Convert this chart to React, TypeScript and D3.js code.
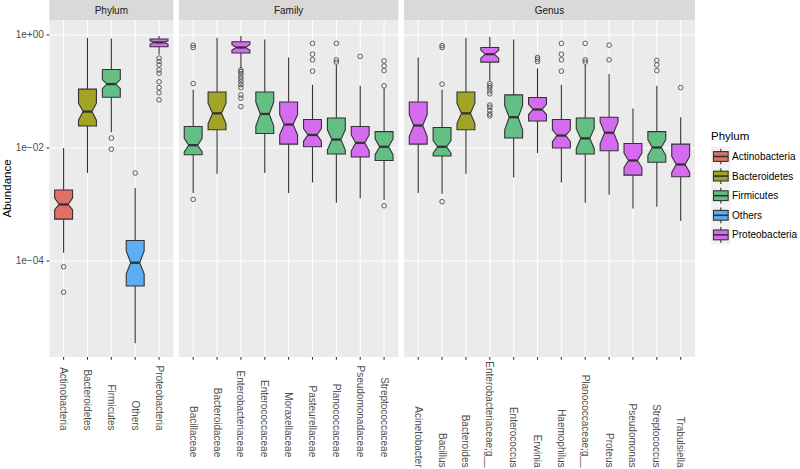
import React from "react";
import * as d3 from "d3";

const WIDTH = 800;
const HEIGHT = 469;
const PLOT_L = 49.3;
const PLOT_R = 695;
const PANEL_T = 20;
const PANEL_B = 357;
const GAP = 5.5;
const FONT = "'Liberation Sans', Arial, Helvetica, sans-serif";

const panelNames = ["Phylum", "Family", "Genus"];
const phyla = ["Actinobacteria", "Bacteroidetes", "Firmicutes", "Others", "Proteobacteria"];
const phylumColors = ["#E06F68", "#A3A326", "#64BF84", "#5BAEF2", "#D56BEE"];

const phylumTaxa = ["Actinobacteria", "Bacteroidetes", "Firmicutes", "Others", "Proteobacteria"];
const familyTaxa = [
  "Bacillaceae", "Bacteroidaceae", "Enterobacteriaceae", "Enterococcaceae", "Moraxellaceae",
  "Pasteurellaceae", "Planococcaceae", "Pseudomonadaceae", "Streptococcaceae",
];
const genusTaxa = [
  "Acinetobacter", "Bacillus", "Bacteroides", "Enterobacteriaceae;g__", "Enterococcus", "Erwinia",
  "Haemophilus", "Planococcaceae;g__", "Proteus", "Pseudomonas", "Streptococcus", "Trabulsiella",
];
const panelTaxa = [phylumTaxa, familyTaxa, genusTaxa];

// phylum index of each box (fill colour), in panel order
const boxPhylum = [
  0, 1, 2, 3, 4,
  2, 1, 4, 2, 4, 4, 2, 4, 2,
  4, 2, 1, 4, 2, 4, 4, 2, 4, 4, 2, 4,
];

const whiskerLow = [
  1.4e-4, 3.6e-3, 1.9e-2, 3.5e-6, 0.45,
  1.6e-3, 3.5e-3, 0.257, 3.6e-3, 1.6e-3, 2.45e-3, 1.07e-3, 1.29e-3, 1.2e-3,
  1.6e-3, 1.55e-3, 3.5e-3, 0.155, 3.0e-3, 8.1e-3, 2.45e-3, 1.07e-3, 1.48e-3, 8.5e-4, 9.1e-4, 5.1e-4,
];
const hingeLow = [
  5.5e-4, 2.45e-2, 7.9e-2, 3.6e-5, 0.62,
  7.6e-3, 2.1e-2, 0.48, 1.8e-2, 1.17e-2, 1.05e-2, 7.8e-3, 6.9e-3, 6.0e-3,
  1.17e-2, 7.2e-3, 2.1e-2, 0.331, 1.5e-2, 3.0e-2, 1.0e-2, 7.8e-3, 8.9e-3, 3.3e-3, 5.6e-3, 3.1e-3,
];
const medians = [
  1.0e-3, 4.4e-2, 0.135, 9.3e-5, 0.74,
  1.12e-2, 4.1e-2, 0.6, 4.0e-2, 2.6e-2, 1.7e-2, 1.41e-2, 1.23e-2, 1.05e-2,
  2.5e-2, 1.05e-2, 4.1e-2, 0.457, 3.5e-2, 4.8e-2, 1.66e-2, 1.48e-2, 1.86e-2, 6.0e-3, 1.02e-2, 5.1e-3,
];
const hingeHigh = [
  1.8e-3, 0.11, 0.245, 2.3e-4, 0.85,
  2.4e-2, 9.8e-2, 0.76, 9.8e-2, 6.5e-2, 3.2e-2, 3.4e-2, 2.4e-2, 1.95e-2,
  6.5e-2, 2.3e-2, 9.8e-2, 0.6, 8.7e-2, 7.8e-2, 3.2e-2, 3.4e-2, 3.5e-2, 1.2e-2, 1.95e-2, 1.17e-2,
];
const whiskerHigh = [
  1.0e-2, 0.89, 0.87, 1.95e-3, 0.955,
  0.107, 0.89, 0.955, 0.83, 0.4, 0.132, 0.295, 0.126, 0.115,
  0.4, 0.107, 0.89, 0.93, 0.83, 0.257, 0.132, 0.295, 0.204, 5.0e-2, 0.126, 3.5e-2,
];
const notchLow = [
  8.1e-4, 3.1e-2, 0.112, 5.9e-5, 0.69,
  8.5e-3, 2.7e-2, 0.54, 2.45e-2, 1.7e-2, 1.32e-2, 9.3e-3, 8.9e-3, 7.6e-3,
  1.6e-2, 8.1e-3, 2.7e-2, 0.389, 2.1e-2, 3.9e-2, 1.29e-2, 9.8e-3, 1.2e-2, 4.5e-3, 7.4e-3, 3.7e-3,
];
const notchHigh = [
  1.3e-3, 6.2e-2, 0.162, 1.5e-4, 0.79,
  1.48e-2, 6.2e-2, 0.67, 6.5e-2, 3.9e-2, 2.2e-2, 2.1e-2, 1.7e-2, 1.45e-2,
  3.9e-2, 1.35e-2, 6.2e-2, 0.537, 5.6e-2, 5.9e-2, 2.1e-2, 2.2e-2, 2.9e-2, 8.1e-3, 1.41e-2, 7.1e-3,
];
const outliers: number[][] = [
  [7.9e-5, 2.8e-5],
  [],
  [1.5e-2, 9.5e-3],
  [3.6e-3],
  [0.39, 0.34, 0.295, 0.24, 0.21, 0.148, 0.117, 0.095, 0.071],
  [0.66, 0.6, 0.138, 1.23e-3],
  [],
  [0.24, 0.224, 0.204, 0.182, 0.166, 0.148, 0.132, 0.117, 0.087, 0.076, 0.054],
  [],
  [],
  [0.71, 0.457, 0.363, 0.229],
  [0.71, 0.363, 0.331],
  [0.417],
  [0.347, 0.282, 0.234, 0.126, 9.5e-4],
  [],
  [0.65, 0.6, 0.135, 1.12e-3],
  [],
  [0.138, 0.126, 0.115, 0.102, 0.091, 0.0575, 0.0525, 0.0457, 0.04, 0.037],
  [],
  [0.4, 0.372, 0.339],
  [0.71, 0.457, 0.363, 0.229],
  [0.71, 0.363, 0.331],
  [0.66, 0.363],
  [],
  [0.355, 0.295, 0.234],
  [0.117],
];

const yTicks = [1e-4, 1e-2, 1];
const yTickLabels = ["1e\u221204", "1e\u221202", "1e+00"];

let ctx: CanvasRenderingContext2D | null = null;
function textWidth(s: string, size: number) {
  if (!ctx) ctx = document.createElement("canvas").getContext("2d");
  if (!ctx) return s.length * size * 0.5;
  ctx.font = `${size}px 'Liberation Sans'`;
  return ctx.measureText(s).width;
}

export default function App() {
  const y = d3.scaleLog().domain([10 ** -5.7, 10 ** 0.265]).range([PANEL_B, PANEL_T]);

  const units = d3.sum(panelTaxa, (t) => t.length - 1 + 1.2);
  const unit = (PLOT_R - PLOT_L - GAP * (panelTaxa.length - 1)) / units;
  const boxW = unit * 0.75;

  let left = PLOT_L;
  let offset = 0;
  const panels = panelTaxa.map((taxa, p) => {
    const w = (taxa.length - 1 + 1.2) * unit;
    const x = d3.scalePoint<string>().domain(taxa).range([left, left + w]).padding(0.6);
    const panel = { name: panelNames[p], taxa, x, x0: left, x1: left + w, start: offset };
    left += w + GAP;
    offset += taxa.length;
    return panel;
  });

  const line = d3.line<[number, number]>();
  const stroke = "#333333";

  return (
    <svg
      width={WIDTH}
      height={HEIGHT}
      style={{ position: "absolute", left: 0, top: 0, background: "#fff", fontFamily: FONT }}
    >
      {panels.map((pn) => {
        const labelLen = d3.max(pn.taxa, (t) => textWidth(t, 10)) || 0;
        // labels end where the panel's longest one ends, kept inside the picture
        const labelEnd = Math.min(PANEL_B + 8.5 + labelLen, HEIGHT - 1.5);
        return (
          <g key={pn.name}>
            {/* panel */}
            <rect x={pn.x0} y={PANEL_T} width={pn.x1 - pn.x0} height={PANEL_B - PANEL_T} fill="#EBEBEB" />
            {yTicks.map((t) => (
              <line key={t} x1={pn.x0} x2={pn.x1} y1={y(t)} y2={y(t)} stroke="#fff" strokeWidth={1.07} />
            ))}
            {pn.taxa.map((t) => (
              <line key={t} x1={pn.x(t)} x2={pn.x(t)} y1={PANEL_T} y2={PANEL_B} stroke="#fff" strokeWidth={1.07} />
            ))}
            {/* strip */}
            <rect x={pn.x0} y={0} width={pn.x1 - pn.x0} height={PANEL_T} fill="#D9D9D9" />
            <text x={(pn.x0 + pn.x1) / 2} y={PANEL_T / 2} dy="0.35em" textAnchor="middle" fontSize={10} fill="#1A1A1A">
              {pn.name}
            </text>
            {/* boxes */}
            {pn.taxa.map((t, j) => {
              const i = pn.start + j;
              const cx = pn.x(t) as number;
              const hw = boxW / 2;
              const pts: [number, number][] = [
                [cx - hw, y(hingeHigh[i])],
                [cx - hw, y(notchHigh[i])],
                [cx - hw / 2, y(medians[i])],
                [cx - hw, y(notchLow[i])],
                [cx - hw, y(hingeLow[i])],
                [cx + hw, y(hingeLow[i])],
                [cx + hw, y(notchLow[i])],
                [cx + hw / 2, y(medians[i])],
                [cx + hw, y(notchHigh[i])],
                [cx + hw, y(hingeHigh[i])],
              ];
              return (
                <g key={t}>
                  {outliers[i].map((v, k) => (
                    <circle key={k} cx={cx} cy={y(v)} r={2.3} fill="none" stroke="#4D4D4D" strokeWidth={0.9} />
                  ))}
                  <line x1={cx} x2={cx} y1={y(whiskerHigh[i])} y2={y(hingeHigh[i])} stroke={stroke} strokeWidth={1.1} />
                  <line x1={cx} x2={cx} y1={y(hingeLow[i])} y2={y(whiskerLow[i])} stroke={stroke} strokeWidth={1.1} />
                  <path d={line(pts) + "Z"} fill={phylumColors[boxPhylum[i]]} stroke={stroke} strokeWidth={1.1} />
                  <line
                    x1={cx - hw / 2}
                    x2={cx + hw / 2}
                    y1={y(medians[i])}
                    y2={y(medians[i])}
                    stroke={stroke}
                    strokeWidth={2.3}
                  />
                </g>
              );
            })}
            {/* x axis */}
            {pn.taxa.map((t) => (
              <g key={t}>
                <line x1={pn.x(t)} x2={pn.x(t)} y1={PANEL_B} y2={PANEL_B + 2.7} stroke={stroke} strokeWidth={1.07} />
                <text
                  transform={`translate(${pn.x(t)},${labelEnd}) rotate(90)`}
                  textAnchor="end"
                  dy="0.35em"
                  fontSize={10}
                  fill="#4D4D4D"
                >
                  {t}
                </text>
              </g>
            ))}
          </g>
        );
      })}

      {/* y axis */}
      {yTicks.map((t, k) => (
        <g key={t}>
          <line x1={PLOT_L - 2.7} x2={PLOT_L} y1={y(t)} y2={y(t)} stroke={stroke} strokeWidth={1.07} />
          <text x={PLOT_L - 5.5} y={y(t)} dy="0.35em" textAnchor="end" fontSize={10} fill="#4D4D4D">
            {yTickLabels[k]}
          </text>
        </g>
      ))}
      <text
        transform={`translate(10.5,${(PANEL_T + PANEL_B) / 2}) rotate(-90)`}
        textAnchor="middle"
        fontSize={11.5}
        fill="#000"
      >
        Abundance
      </text>

      {/* legend */}
      <text x={711} y={140} fontSize={11.5} fill="#000">
        Phylum
      </text>
      {phyla.map((p, k) => {
        const ks = 19.6;
        const kx = 711;
        const ky = 146.7 + k * ks;
        return (
          <g key={p}>
            <rect x={kx} y={ky} width={ks} height={ks} fill="#F2F2F2" />
            <line x1={kx + ks / 2} x2={kx + ks / 2} y1={ky + ks * 0.1} y2={ky + ks * 0.9} stroke={stroke} strokeWidth={1.1} />
            <rect
              x={kx + ks * 0.125}
              y={ky + ks * 0.25}
              width={ks * 0.75}
              height={ks * 0.5}
              fill={phylumColors[k]}
              stroke={stroke}
              strokeWidth={1.1}
            />
            <line x1={kx + ks * 0.125} x2={kx + ks * 0.875} y1={ky + ks / 2} y2={ky + ks / 2} stroke={stroke} strokeWidth={1.6} />
            <text x={kx + ks + 1.5} y={ky + ks / 2} dy="0.35em" fontSize={10} fill="#000">
              {p}
            </text>
          </g>
        );
      })}
    </svg>
  );
}
